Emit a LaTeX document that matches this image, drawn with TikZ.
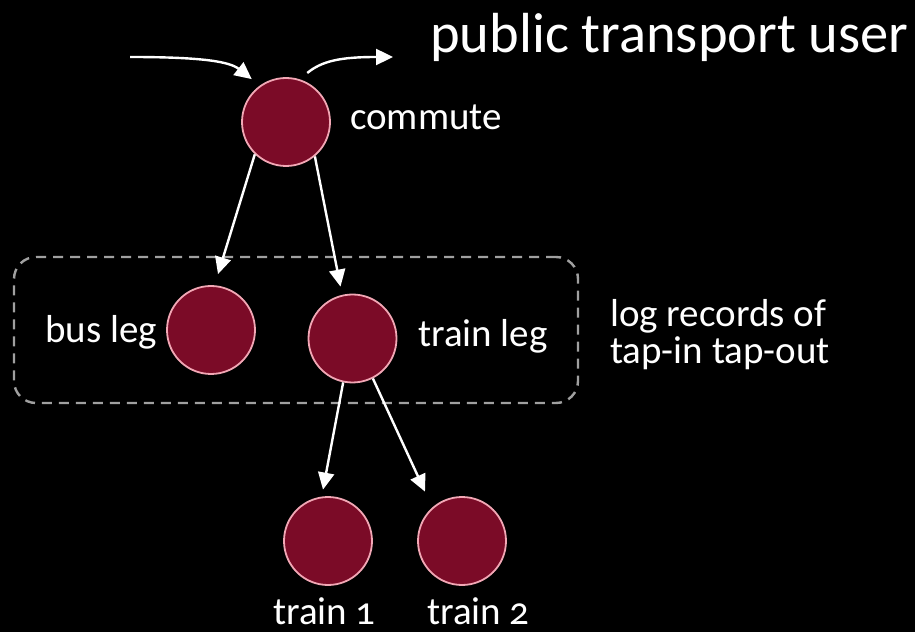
\documentclass[tikz,border=0pt]{standalone}
\usepackage{fontspec}
\setmainfont{Carlito}[Numbers=OldStyle]
\usetikzlibrary{arrows.meta}
\definecolor{discfill}{HTML}{7B0B27}
\definecolor{discrim}{HTML}{F2A7B5}
\definecolor{groupline}{HTML}{A0A0A0}
\tikzset{
  disc/.style={circle, fill=discfill, draw=discrim, line width=1.8pt,
    minimum size=88pt, inner sep=0pt},
  lbl/.style={text=white, inner sep=0pt, anchor=base west,
    font=\fontsize{39pt}{37pt}\selectfont},
  arr/.style={draw=white, line width=2.4pt,
    -{Triangle[length=17pt,width=16pt]}},
  grp/.style={draw=groupline, line width=2.4pt, dash pattern=on 10pt off 7pt,
    rounded corners=22pt, minimum width=564pt, minimum height=146pt,
    inner sep=0pt}
}
\begin{document}
\begin{tikzpicture}[x=1pt,y=1pt]
  \fill[black] (0,0) rectangle (915,632);
  \useasboundingbox (0,0) rectangle (915,632);

  % dashed group around the two legs
  \node[grp] (legs) at (296,302) {};

  % discs
  \node[disc] (commute) at (286,510) {};
  \node[disc] (bus) at (211,302) {};
  \node[disc] (trainleg) at (352.5,293.5) {};
  \node[disc] (train1) at (328,91) {};
  \node[disc] (train2) at (462,91) {};

  % labels
  \node[lbl, font=\fontsize{56.5pt}{60pt}\selectfont] (title) at (430,579) {public transport user};
  \node[lbl] (lcommute) at (350,502) {commute};
  \node[lbl] (lbus) at (45,289) {bus leg};
  \node[lbl] (ltrainleg) at (418,285) {train leg};
  \node[lbl, align=left] (lrecords) at (610,268) {log records of\\tap-in tap-out};
  \node[lbl] (ltrain1) at (273,8) {train 1};
  \node[lbl] (ltrain2) at (427,8) {train 2};

  % incoming and outgoing flow at the top
  \coordinate (src) at (130,575);
  \coordinate (dst) at (393,575);
  \draw[arr] (src) .. controls (205,575) and (230,570) .. ([shift={(-6pt,8pt)}]commute.129);
  \draw[arr] ([shift={(3pt,8pt)}]commute.66) .. controls (322,571) and (340,575) .. (dst);

  % tree edges
  \draw[arr] (commute.226) -- ([shift={(7pt,11pt)}]bus.north);
  \draw[arr] (commute.310) -- ([shift={(-12pt,7pt)}]trainleg.north);
  \draw[arr] (trainleg.258) -- ([shift={(-5pt,6.5pt)}]train1.north);
  \draw[arr] (trainleg.297) -- ([shift={(-37pt,4.5pt)}]train2.north);
\end{tikzpicture}
\end{document}
